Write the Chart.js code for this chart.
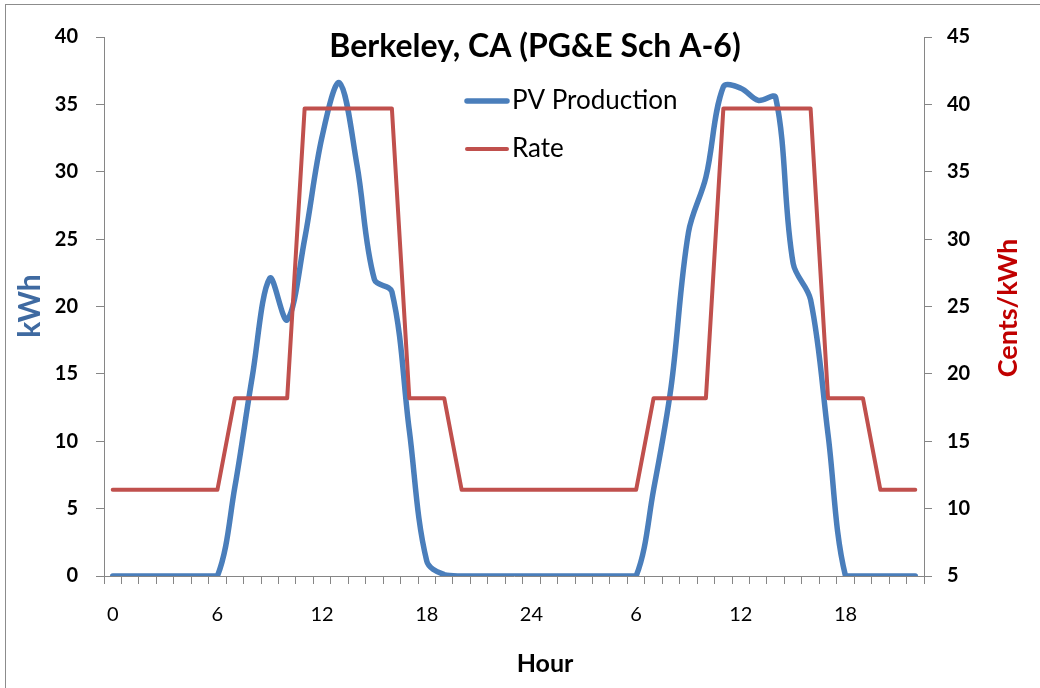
<!DOCTYPE html>
<html>
<head>
<meta charset="utf-8">
<script src="https://cdn.jsdelivr.net/npm/chart.js@4.4.1/dist/chart.umd.min.js"></script>
<style>
html,body{margin:0;padding:0;background:#fff;}
#wrap{width:1040px;height:688px;position:relative;}
</style>
</head>
<body>
<div id="wrap"><canvas id="c" width="1040" height="688"></canvas></div>
<script>
// two days of hourly points, label restarts after 24
const hours = [0,1,2,3,4,5,6,7,8,9,10,11,12,13,14,15,16,17,18,19,20,21,22,23,24,
  1,2,3,4,5,6,7,8,9,10,11,12,13,14,15,16,17,18,19,20,21,22];

const pvKwh = [0,0,0,0,0,0,0,6.6,14.8,22.1,19.0,25.0,32.6,36.6,30.5,22.0,21.1,10.8,1.1,0.1,
  0,0,0,0,0,0,0,0,0,0,0,6.4,14.0,25.5,29.6,36.3,36.2,35.3,35.5,23.2,20.5,10.5,0,0,0,0,0];

const rateCents = [11.4,11.4,11.4,11.4,11.4,11.4,11.4,18.2,18.2,18.2,18.2,39.7,39.7,39.7,39.7,39.7,39.7,18.2,18.2,18.2,
  11.4,11.4,11.4,11.4,11.4,11.4,11.4,11.4,11.4,11.4,11.4,18.2,18.2,18.2,18.2,39.7,39.7,39.7,39.7,39.7,39.7,18.2,18.2,18.2,11.4,11.4,11.4];

const kwhTicks = [0,40,5];
const centTicks = [5,45,5];

const titleText = "Berkeley, CA (PG&E Sch A-6)";
const axisGray = "#868686";
const FONT = "Lato";

/* =====================
   title, legend, axis titles
===================== */
const decor = {
  id: "decor",
  afterDraw(chart){
    const ctx = chart.ctx;
    ctx.save();

    ctx.strokeStyle = "#8c8c8c";
    ctx.lineWidth = 1;
    ctx.strokeRect(5.5, 4.5, 1100, 1100);

    ctx.fillStyle = "#000";
    ctx.font = "bold 32px " + FONT;
    ctx.textAlign = "center";
    ctx.textBaseline = "alphabetic";
    ctx.fillText(titleText, 535, 57);

    // legend (inside the plot)
    const order = [0,1];
    const ys = [101,149];
    order.forEach((di,k)=>{
      const ds = chart.data.datasets[di];
      ctx.strokeStyle = ds.borderColor;
      ctx.lineWidth = ds.borderWidth;
      ctx.lineCap = "round";
      ctx.beginPath();
      ctx.moveTo(467, ys[k]);
      ctx.lineTo(507, ys[k]);
      ctx.stroke();
      ctx.fillStyle = "#000";
      ctx.font = "26px " + FONT;
      ctx.textAlign = "left";
      ctx.textBaseline = "middle";
      ctx.fillText(ds.label, 512, ys[k]);
    });

    ctx.font = "bold 25px " + FONT;
    ctx.textAlign = "center";
    ctx.textBaseline = "middle";
    ctx.fillStyle = "#000";
    ctx.fillText("Hour", 545, 664);

    ctx.save();
    ctx.translate(30, 306);
    ctx.rotate(-Math.PI/2);
    ctx.font = "bold 30px " + FONT;
    ctx.fillStyle = "#3F6AA1";
    ctx.fillText("kWh", 0, 0);
    ctx.restore();

    ctx.save();
    ctx.translate(1008, 308);
    ctx.rotate(-Math.PI/2);
    ctx.font = "bold 27px " + FONT;
    ctx.fillStyle = "#C00000";
    ctx.fillText("Cents/kWh", 0, 0);
    ctx.restore();

    ctx.restore();
  }
};

new Chart(document.getElementById("c"), {
  type: "line",
  data: {
    labels: hours,
    datasets: [
      {
        label: "PV Production",
        data: pvKwh,
        yAxisID: "y",
        borderColor: "#4A7EBB",
        borderWidth: 5.5,
        tension: 0.35,
        pointRadius: 0,
        borderCapStyle: "round",
        borderJoinStyle: "round",
        order: 1
      },
      {
        label: "Rate",
        data: rateCents,
        yAxisID: "y1",
        borderColor: "#C0504D",
        borderWidth: 4,
        tension: 0,
        pointRadius: 0,
        borderCapStyle: "round",
        borderJoinStyle: "round",
        order: 0
      }
    ]
  },
  options: {
    responsive: false,
    animation: false,
    layout: {padding: {top: 37, left: 0, right: 0, bottom: 0}},
    plugins: {legend: {display: false}, title: {display: false}, tooltip: {enabled: false}},
    scales: {
      x: {
        type: "category",
        offset: true,
        grid: {offset: true, drawOnChartArea: false, drawTicks: true, tickLength: 8, color: axisGray},
        border: {color: axisGray, width: 1},
        ticks: {
          autoSkip: false, maxRotation: 0, padding: 19, color: "#000",
          font: {family: FONT, size: 20},
          callback: (v,i) => i % 6 === 0 ? String(hours[i]) : ""
        },
        afterFit: s => { s.height = 112; }
      },
      y: {
        position: "left",
        min: kwhTicks[0], max: kwhTicks[1],
        grid: {drawOnChartArea: false, drawTicks: true, tickLength: 8, color: axisGray},
        border: {color: axisGray, width: 1},
        ticks: {stepSize: kwhTicks[2], padding: 18, color: "#000", font: {family: FONT, size: 20, weight: "bold"}},
        afterFit: s => { s.width = 104; }
      },
      y1: {
        position: "right",
        min: centTicks[0], max: centTicks[1],
        grid: {drawOnChartArea: false, drawTicks: true, tickLength: 8, color: axisGray},
        border: {color: axisGray, width: 1},
        ticks: {stepSize: centTicks[2], padding: 15, color: "#000", font: {family: FONT, size: 20, weight: "bold"}},
        afterFit: s => { s.width = 116; }
      }
    }
  },
  plugins: [decor]
});
</script>
</body>
</html>
